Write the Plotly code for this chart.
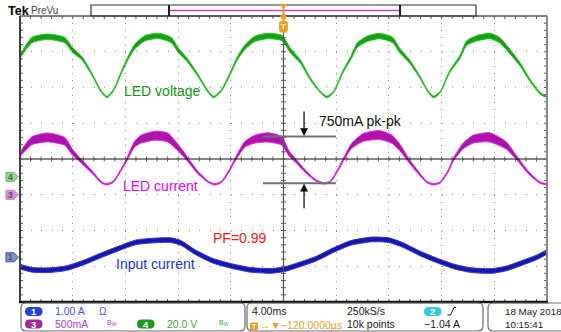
import plotly.graph_objects as go

FONT = "Liberation Sans, Arial, sans-serif"

# ---------------- acquisition settings ----------------
TIME_PER_DIV = 4.0          # ms/div
N_HDIV, N_VDIV = 10, 8

# vertical scale per division and ground-marker position (divisions from centre)
CH1_SCALE, CH1_POS = 1.00, -2.75    # A/div   - input current
CH3_SCALE, CH3_POS = 500, -1.0      # mA/div  - LED current
CH4_SCALE, CH4_POS = 20.0, -0.5     # V/div   - LED voltage
CH2_TRIG_LEVEL = "\u22121.04 A"

# ---------------- CH4: LED voltage (V) ----------------
t_led_v = [-20.0, -19.1, -17.9, -16.6, -16.0, -15.3, -14.5, -13.9, -13.4, -12.9,
           -12.3, -11.8, -11.3, -10.5, -9.5, -8.5, -8.0, -7.3, -6.5, -5.7,
           -5.3, -4.7, -4.1, -3.5, -2.9, -2.2, -1.2, -0.1, 0.5, 1.3,
           2.0, 2.8, 3.3, 3.8, 4.5, 5.1, 5.6, 6.3, 7.3, 8.3,
           8.8, 9.6, 10.4, 11.0, 11.4, 11.9, 12.6, 13.4, 13.9, 14.7,
           15.7, 16.4, 17.2, 18.0, 18.7, 19.5, 20.0]
led_v = [67.2, 76.5, 78.4, 76.5, 70.9, 66.4, 56.9, 48.5, 44.7, 48.5,
         58.6, 66.4, 72.8, 77.6, 78.9, 76.5, 70.9, 65.3, 56.9, 47.5,
         44.7, 48.5, 56.9, 66.4, 72.8, 77.1, 78.8, 77.6, 70.9, 64.3,
         55.2, 47.5, 44.7, 47.5, 58.7, 66.4, 73.7, 77.1, 78.8, 76.5,
         70.9, 64.3, 55.2, 47.5, 44.7, 47.5, 58.7, 67.2, 74.8, 77.6,
         78.8, 76.5, 70.0, 62.5, 54.1, 46.6, 44.7]
# pk-pk switching ripple riding on the voltage (V)
led_v_ripple = [1.8, 3.0, 3.0, 3.0, 2.6, 1.8, 1.2, 0.9, 0.9, 0.9,
                1.2, 1.8, 2.6, 3.0, 3.0, 3.0, 2.6, 1.8, 1.2, 0.9,
                0.9, 0.9, 1.2, 1.8, 2.6, 3.0, 3.0, 3.0, 2.6, 1.8,
                1.2, 0.9, 0.9, 0.9, 1.2, 1.8, 2.6, 3.0, 3.0, 3.0,
                2.6, 1.8, 1.2, 0.9, 0.9, 0.9, 1.2, 1.8, 2.6, 3.0,
                3.0, 3.0, 2.6, 1.8, 1.2, 0.9, 0.9]

# ---------------- CH3: LED current (mA) ----------------
t_led_i = [-20.0, -19.1, -17.9, -16.6, -16.0, -15.45, -14.5, -13.8, -13.4, -12.9,
           -12.3, -11.9, -11.3, -10.8, -9.75, -8.8, -8.0, -7.25, -6.5, -5.7,
           -5.2, -4.7, -4.06, -3.68, -2.92, -2.16, -1.18, -0.14, 0.42, 0.87,
           1.63, 2.39, 3.02, 3.53, 4.16, 4.54, 5.18, 6.06, 7.32, 8.21,
           8.84, 9.47, 10.23, 10.87, 11.37, 11.88, 12.51, 12.89, 13.65, 14.41,
           15.67, 16.94, 17.57, 17.82, 18.58, 19.47, 20.0]
led_i = [567, 755, 802, 746, 591, 489, 311, 170, 146, 184,
         357, 489, 708, 778, 826, 802, 661, 489, 311, 180,
         146, 180, 357, 489, 708, 778, 802, 755, 577, 489,
         334, 208, 160, 180, 357, 489, 685, 802, 834, 778,
         661, 489, 311, 180, 146, 170, 334, 489, 685, 778,
         802, 685, 545, 489, 311, 170, 146]
led_i_ripple = [60, 110, 125, 110, 80, 55, 35, 20, 20, 20,
                30, 40, 80, 110, 125, 125, 90, 55, 35, 20,
                20, 20, 30, 40, 80, 110, 130, 120, 70, 50,
                35, 20, 20, 20, 30, 40, 70, 110, 125, 115,
                90, 55, 35, 20, 20, 20, 30, 40, 80, 110,
                130, 100, 60, 50, 35, 20, 20]

# ---------------- CH1: input current (A) ----------------
t_in_i = [-20.0, -19.07, -17.75, -16.44, -15.13, -13.81, -12.50, -11.19, -9.87, -8.56,
          -7.77, -6.72, -5.41, -4.10, -2.52, -0.94, 0.11, 1.15, 2.47, 3.78,
          5.09, 6.67, 7.98, 9.03, 10.35, 11.66, 12.97, 14.28, 15.86, 16.92,
          18.23, 19.28, 20.0]
in_i = [-0.26, -0.35, -0.36, -0.30, -0.14, 0.06, 0.25, 0.42, 0.47, 0.48,
        0.40, 0.15, -0.09, -0.23, -0.35, -0.38, -0.33, -0.21, -0.04, 0.20,
        0.40, 0.50, 0.48, 0.35, 0.11, -0.09, -0.26, -0.36, -0.38, -0.31,
        -0.14, 0.01, 0.15]
IN_I_RIPPLE = 0.13

# cursor levels of the LED-current pk-pk measurement (mA)
MEAS_TOP_MA, MEAS_BOT_MA = 816, 160
MEAS_T0, MEAS_T1, MEAS_T_ARROW = -1.56, 3.98, 1.56
MEAS_LABEL = "750mA pk-pk"

# ---------------- page geometry ----------------
W, H = 561, 332
GL, GR, GT, GB = 20, 547, 16, 302          # graticule edges in px
HDIV = (GR - GL) / N_HDIV
VDIV = (GB - GT) / N_VDIV
CX, CY = (GL + GR) / 2, (GT + GB) / 2


def px(x):
    return (x - GL) / (GR - GL)


def py(y):
    return (GB - y) / (GB - GT)


def P(x, y):
    return f"{px(x):.5f},{py(y):.5f}"


def ch_range(scale, pos):
    return [(-N_VDIV / 2 - pos) * scale, (N_VDIV / 2 - pos) * scale]


fig = go.Figure()
# empty trace keeps the base (graticule) subplot alive
fig.add_trace(go.Scatter(x=[], y=[], hoverinfo="skip"))


def add_band(t, v, ripple, yaxis, edge, core):
    lo = [a - r / 2 for a, r in zip(v, ripple)]
    hi = [a + r / 2 for a, r in zip(v, ripple)]
    ln = dict(color=edge, width=1, shape="spline", smoothing=0.6)
    fig.add_trace(go.Scatter(x=t, y=lo, yaxis=yaxis, mode="lines", line=ln, hoverinfo="skip"))
    fig.add_trace(go.Scatter(x=t, y=hi, yaxis=yaxis, mode="lines", line=ln, fill="tonexty",
                             fillcolor=core, hoverinfo="skip"))


add_band(t_in_i, in_i, [IN_I_RIPPLE] * len(in_i), "y4", "#2f2fe6", "#1818a6")
add_band(t_led_i, led_i, led_i_ripple, "y3", "#e02ae0", "#ad12ad")
add_band(t_led_v, led_v, led_v_ripple, "y2", "#22c822", "#189f18")

shapes = []
ann = []


def seg(x0, y0, x1, y1, color, width, layer="above"):
    shapes.append(dict(type="line", xref="paper", yref="paper", x0=px(x0), y0=py(y0),
                       x1=px(x1), y1=py(y1), line=dict(color=color, width=width), layer=layer))


def path(d, line_color=None, width=1, fill=None, layer="above"):
    s = dict(type="path", xref="paper", yref="paper", path=d, layer=layer,
             line=dict(color=line_color or "rgba(0,0,0,0)", width=width if line_color else 0))
    if fill:
        s["fillcolor"] = fill
    shapes.append(s)


def rrect(x0, y0, x1, y1, r):
    return (f"M{P(x0 + r, y0)} L{P(x1 - r, y0)} Q{P(x1, y0)} {P(x1, y0 + r)} "
            f"L{P(x1, y1 - r)} Q{P(x1, y1)} {P(x1 - r, y1)} L{P(x0 + r, y1)} "
            f"Q{P(x0, y1)} {P(x0, y1 - r)} L{P(x0, y0 + r)} Q{P(x0, y0)} {P(x0 + r, y0)} Z")


def label(x, y, text, color="#1a1a1a", size=10.5, xanchor="left", bold=False):
    ann.append(dict(x=px(x), y=py(y), xref="paper", yref="paper", text=text, showarrow=False,
                    xanchor=xanchor, yanchor="middle", borderpad=0,
                    font=dict(family=FONT, size=size, color=color,
                              weight="bold" if bold else "normal")))


# ---- graticule: centre cross, border, minor ticks ----
seg(GL, CY, GR, CY, "#111111", 1)
seg(CX, GT, CX, GB, "#555555", 1.2)
hstep, vstep = HDIV / 5, VDIV / 5
ticks = []
for k in range(1, N_HDIV * 5):
    x = GL + k * hstep
    ticks += [(x, GT, x, GT + 3), (x, GB, x, GB - 3), (x, CY - 2.5, x, CY + 2.5)]
for k in range(1, N_VDIV * 5):
    y = GT + k * vstep
    ticks += [(GL, y, GL + 3, y), (GR, y, GR - 3, y), (CX - 2.5, y, CX + 2.5, y)]
path(" ".join(f"M{P(a, b)} L{P(c, d)}" for a, b, c, d in ticks), "#5a5a5a", 1)
seg(GL, GT, GR, GT, "#5a5a5a", 1.5)
seg(GR, GT, GR, GB, "#8a8a8a", 2)
seg(GL, GT, GL, GB, "#404040", 2)
seg(GL - 1, GB, GR + 1, GB, "#111111", 2.5)

# ---- record-length bar and trigger position ----
path(rrect(91, 5, 476, GT, 0.1), "#303030", 1.2)
seg(169, 10.5, 400, 10.5, "#c542c5", 1.5)
seg(169, 5, 169, GT, "#202020", 2)
seg(400, 5, 400, GT, "#202020", 2)
ORANGE = "#f29b1f"
seg(CX, 6, CX, 15, ORANGE, 2)
path(f"M{P(CX - 3, 4.5)} L{P(CX + 3, 4.5)} L{P(CX, 8)} Z", ORANGE, 1, ORANGE)
path(f"M{P(CX - 3, 16.5)} L{P(CX + 3, 16.5)} L{P(CX, 13)} Z", ORANGE, 1, ORANGE)
path(f"M{P(CX - 2.5, 17.5)} L{P(CX + 2.5, 17.5)} L{P(CX, 21)} Z", ORANGE, 1, ORANGE)
path(rrect(CX - 3.8, 21.5, CX + 3.8, 32, 1.5), ORANGE, 1, ORANGE)
label(CX, 27, "T", "white", 8, "center", True)

label(6.5, 11, "Tek", "#000000", 12.5, bold=True)
label(30, 11, "PreVu", "#444444", 10)

# ---- channel ground markers ----
for pos, fill, edge, num in [(CH4_POS, "#92d892", "#5cb85c", "4"),
                             (CH3_POS, "#d98fd9", "#c37ac3", "3"),
                             (CH1_POS, "#8592b4", "#2a48e0", "1")]:
    c = CY - pos * VDIV
    path(f"M{P(6, c - 4.5)} L{P(14, c - 4.5)} L{P(18.5, c)} L{P(14, c + 4.5)} L{P(6, c + 4.5)} Z",
         edge, 1, fill)
    label(10.5, c, num, "#555555", 8.5, "center", True)

# ---- LED current pk-pk cursors with arrows ----
for lvl, tail in ((MEAS_TOP_MA, -25), (MEAS_BOT_MA, 25)):
    shapes.append(dict(type="line", xref="x", yref="y3", x0=MEAS_T0, x1=MEAS_T1, y0=lvl, y1=lvl,
                       line=dict(color="#727272", width=2), layer="above"))
    # arrow shaft (pixel offsets anchored on the cursor level)
    shapes.append(dict(type="line", xref="x", yref="y3", xsizemode="pixel", ysizemode="pixel",
                       xanchor=MEAS_T_ARROW, yanchor=lvl, x0=0, x1=0,
                       y0=-tail, y1=-tail / abs(tail) * 6,
                       line=dict(color="#000000", width=1.2), layer="above"))
    # arrow head
    s = 1 if tail < 0 else -1
    shapes.append(dict(type="path", xref="x", yref="y3", xsizemode="pixel", ysizemode="pixel",
                       xanchor=MEAS_T_ARROW, yanchor=lvl,
                       path=f"M-3.5,{s * 8} L3.5,{s * 8} L0,{s * 1} Z",
                       fillcolor="#000000", line=dict(color="#000000", width=0.5), layer="above"))

# ---- trace labels ----
label(318, 121, MEAS_LABEL, "#111111", 14)
label(123, 91.5, "LED voltage", "#0e960e", 14)
label(122, 186, "LED current", "#f000f0", 14)
label(115, 264, "Input current", "#2030f0", 14)
label(212, 238.5, "PF=0.99", "#ff1010", 14)

# ---- status panel ----
BOX = "#6c6c6c"
path(rrect(21, 303, 245, 331, 5), BOX, 1.2)
path(rrect(247, 303, 483, 331, 5), BOX, 1.2)
path(rrect(488, 303, 580, 331, 5), BOX, 1.2)

for x0, y0, fill, num in [(25, 307, "#2343d8", "1"), (25, 319.5, "#a02a9c", "3"),
                          (137, 319.5, "#1f9a1f", "4"), (424, 307, "#35cadb", "2")]:
    path(rrect(x0, y0, x0 + 17.5, y0 + 9, 4.5), None, 0, fill)
    label(x0 + 8.75, y0 + 4.5, num, "white", 9.5, "center", True)

label(54, 311, f"{CH1_SCALE:.2f} A", "#4050f5", 10.5)
label(98, 311, "\u03a9", "#4050f5", 10)
label(53.5, 324, f"{CH3_SCALE}mA", "#b43eb8", 10.5)
label(106, 323, "B<sub>W</sub>", "#b43eb8", 7)
label(165.5, 324, f"{CH4_SCALE:.1f} V", "#3ca83c", 10.5)
label(217.5, 323, "B<sub>W</sub>", "#3ca83c", 7)

label(250.5, 311, f"{TIME_PER_DIV:.2f}ms", "#1a1a1a", 10.5)
path(rrect(250, 322.5, 258, 330, 1.2), None, 0, ORANGE)
label(254, 326.3, "T", "white", 7, "center", True)
label(258.5, 325, "\u2192\u25bc\u2212120.0000\u00b5s", ORANGE, 10.5)
label(345.5, 311, "250kS/s", "#1a1a1a", 10.5)
label(345.5, 324, "10k points", "#1a1a1a", 10.5)
path(f"M{P(447.5, 315)} L{P(450.5, 315)} L{P(454, 307.5)} L{P(456, 307.5)}", "#1a1a1a", 1)
label(422.5, 324, CH2_TRIG_LEVEL, "#1a1a1a", 10.5)
label(504, 311, "18 May 2018", "#1a1a1a", 9.8)
label(504, 324, "10:15:41", "#1a1a1a", 9.8)

half_t = TIME_PER_DIV * N_HDIV / 2
fig.update_layout(
    width=W, height=H, autosize=False,
    margin=dict(l=GL, r=W - GR, t=GT, b=H - GB, pad=0),
    paper_bgcolor="white", plot_bgcolor="white",
    showlegend=False, hovermode=False,
    xaxis=dict(range=[-half_t, half_t], dtick=TIME_PER_DIV, tick0=0, showgrid=True,
               gridcolor="#8e8e8e", gridwidth=1, griddash=f"1px,{vstep - 1:.3f}px",
               zeroline=False, showticklabels=False, ticks="", showline=False, fixedrange=True),
    yaxis=dict(range=[-N_VDIV / 2, N_VDIV / 2], dtick=1, tick0=0, showgrid=True,
               gridcolor="#8e8e8e", gridwidth=1, griddash=f"1px,{hstep - 1:.3f}px",
               zeroline=False, showticklabels=False, ticks="", showline=False, fixedrange=True),
    yaxis2=dict(overlaying="y", range=ch_range(CH4_SCALE, CH4_POS), visible=False, fixedrange=True),
    yaxis3=dict(overlaying="y", range=ch_range(CH3_SCALE, CH3_POS), visible=False, fixedrange=True),
    yaxis4=dict(overlaying="y", range=ch_range(CH1_SCALE, CH1_POS), visible=False, fixedrange=True),
    shapes=shapes,
    annotations=ann,
)

fig.write_html("out.html", config={"displayModeBar": False, "staticPlot": True})
